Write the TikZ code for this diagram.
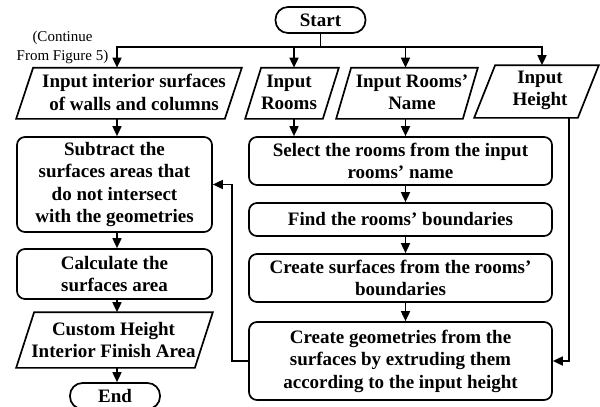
\documentclass[tikz,border=0pt]{standalone}
\usepackage{fontspec}
\setmainfont{Liberation Serif}
\usetikzlibrary{arrows.meta}
\newcommand\paral[2]{\draw ([xshift=#2pt]#1.north west) -- (#1.north east) -- ([xshift=-#2pt]#1.south east) -- (#1.south west) -- cycle;}
\begin{document}
\begin{tikzpicture}[x=1pt,y=-1pt,
  font=\fontsize{19}{22.5}\selectfont\bfseries,
  line width=1.7pt,
  box/.style={draw, rounded corners=8pt, align=center, inner sep=0pt},
  term/.style={draw, rounded corners=12.5pt, align=center, inner sep=0pt, minimum width=90pt, minimum height=26pt},
  pbox/.style={align=center, inner sep=0pt},
  arr/.style={-{Triangle[length=10pt,width=9pt]}}
]
\useasboundingbox (0,0) rectangle (600,407);
% terminals
\node[term] (start) at (320.5,20) {Start};
\node[term] (end) at (115,396) {End};
% inputs (shapes)
\node[pbox, minimum width=224pt, minimum height=49.5pt] (p1) at (129,93.25) {};
\node[pbox, minimum width=92pt, minimum height=49.5pt] (p2) at (292,93.25) {};
\node[pbox, minimum width=140pt, minimum height=49.5pt] (p3) at (407,93.25) {};
\node[pbox, minimum width=123pt, minimum height=51pt] (p4) at (536.5,91.5) {};
\paral{p1}{17}
\paral{p2}{16}
\paral{p3}{15}
\paral{p4}{21}
% input texts
\node[pbox] (p1t) at ([xshift=5pt,yshift=1pt]p1.center) {Input interior surfaces\\of walls and columns};
\node[pbox] (p2t) at ([xshift=-3pt,yshift=1pt]p2.center) {Input\\Rooms};
\node[pbox] (p3t) at ([xshift=5pt,yshift=1pt]p3.center) {Input Rooms'\\Name};
\node[pbox] (p4t) at ([xshift=3.5pt,yshift=1pt]p4.center) {Input\\Height};
% left column
\node[box, minimum width=195pt, minimum height=95pt] (sub) at (114.5,184.5) {Subtract the\\surfaces areas that\\do not intersect\\with the geometries};
\node[box, minimum width=195pt, minimum height=50pt] (calc) at (114.5,274) {Calculate the\\surfaces area};
\node[pbox, minimum width=195pt, minimum height=54pt] (cust) at (114.5,340) {};
\paral{cust}{18}
\node[pbox] (custt) at ([xshift=-1pt]cust.center) {Custom Height\\Interior Finish Area};
% right column
\node[box, minimum width=303pt, minimum height=48pt] (sel) at (400.5,161) {Select the rooms from the input\\rooms' name};
\node[box, minimum width=303pt, minimum height=33pt] (find) at (400.5,219.5) {Find the rooms' boundaries};
\node[box, minimum width=303pt, minimum height=48pt] (surf) at (400.5,278) {Create surfaces from the rooms'\\boundaries};
\node[box, minimum width=303pt, minimum height=78pt] (geo) at (400.5,361) {Create geometries from the\\surfaces by extruding them\\according to the input height};
% note
\node[font=\fontsize{15}{19}\selectfont, align=center, inner sep=0pt] (cont) at (62.5,47) {(Continue\\From Figure 5)};
% helper coordinates
\coordinate (bus) at (320.5,47);
\coordinate (bl) at (117,47);
\coordinate (br) at (542,47);
\coordinate (xa) at (294,0);
\coordinate (xb) at (405.5,0);
\coordinate (xl) at (117,0);
\coordinate (xh) at (569,0);
\coordinate (xf) at (232,0);
% top bus
\draw[arr] (start.south) |- (bl) -- (p1.north -| bl);
\draw[arr] (bus) -| (p4.north -| br);
\draw[arr] (bus -| xa) -- (p2.north -| xa);
\draw[arr] (bus -| xb) -- (p3.north -| xb);
% into select
\draw[arr] (p2.south -| xa) -- (sel.north -| xa);
\draw[arr] (p3.south -| xb) -- (sel.north -| xb);
% right column
\draw[arr] (sel.south -| xb) -- (find.north -| xb);
\draw[arr] (find.south -| xb) -- (surf.north -| xb);
\draw[arr] (surf.south -| xb) -- (geo.north -| xb);
\draw[arr] (p4.south -| xh) |- (geo.east);
% feedback
\draw[arr] (geo.west) -| (xf |- sub.east) -- (sub.east);
% left column
\draw[arr] (p1.south -| xl) -- (sub.north -| xl);
\draw[arr] (sub.south -| xl) -- (calc.north -| xl);
\draw[arr] (calc.south -| xl) -- (cust.north -| xl);
\draw[arr] (cust.south -| xl) -- (end.north -| xl);
\end{tikzpicture}
\end{document}
